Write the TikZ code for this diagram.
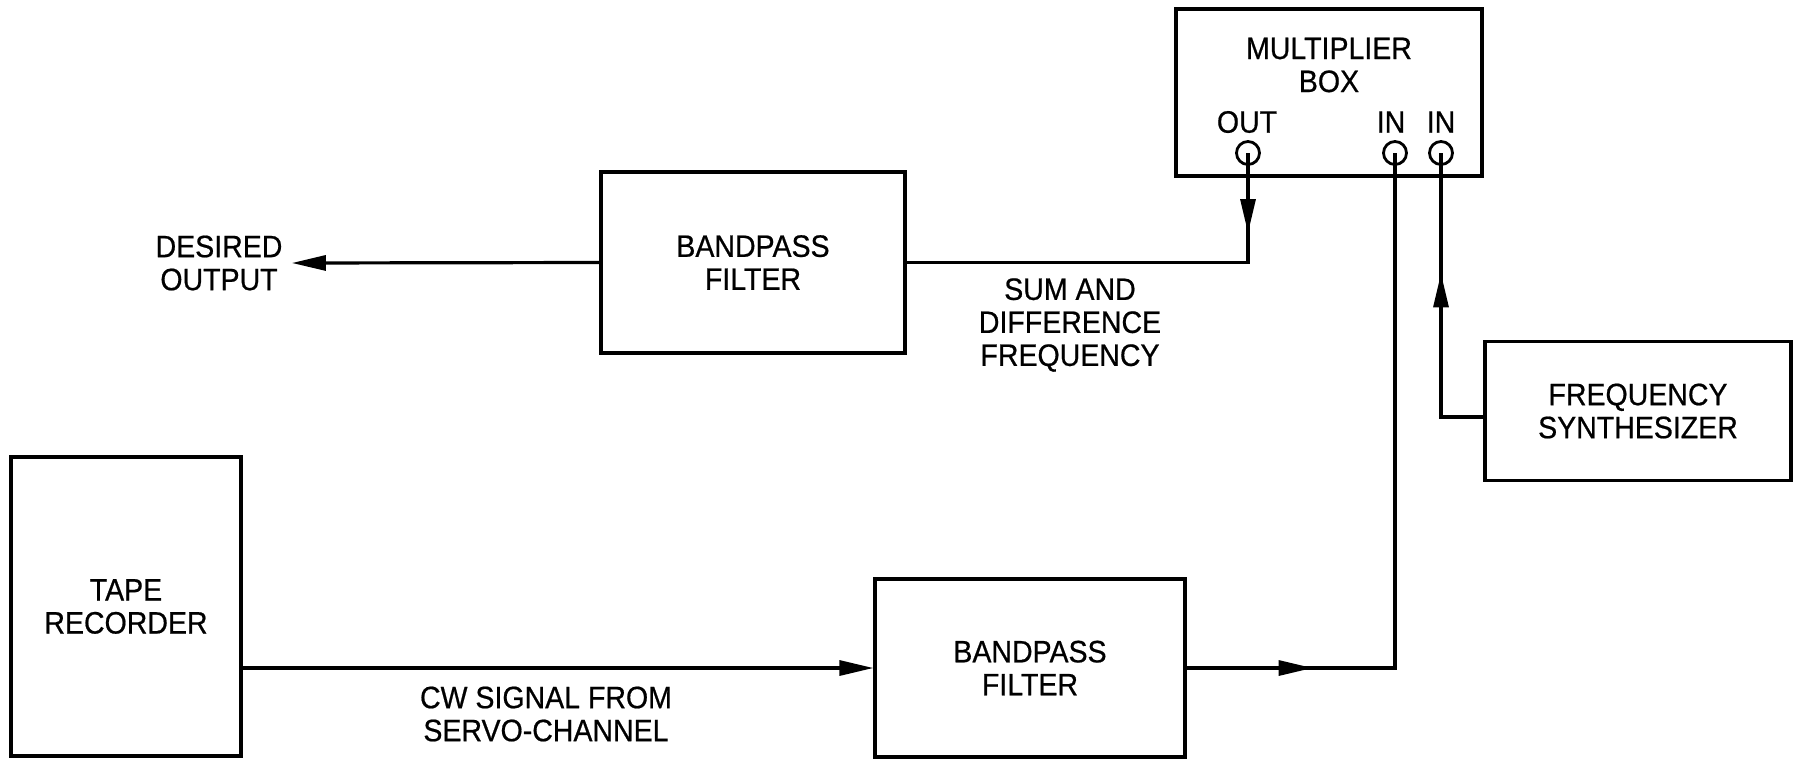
\documentclass[tikz,border=0pt]{standalone}
\usepackage{fontspec}
\setmainfont{Liberation Sans}[FakeStretch=0.92,FakeBold=0.6]
\usetikzlibrary{arrows.meta,decorations.markings}
\newcommand\diagfont{\fontsize{15.5}{16.5}\selectfont}
\begin{document}
\begin{tikzpicture}[x=0.5pt,y=-0.5pt,
  blockbox/.style={draw,line width=1.6pt,rectangle,inner sep=0pt,align=center,font=\diagfont},
  lbl/.style={align=center,font=\diagfont,inner sep=0pt},
  port/.style={draw,circle,line width=1.4pt,minimum size=11.5pt,inner sep=0pt},
  wire/.style={line width=1.6pt},
  tip/.style={-{Triangle[length=17pt,width=7.5pt]}},
  midarrow/.style={postaction={decorate},decoration={markings,mark=at position #1 with {\arrow{Triangle[length=17pt,width=7.5pt]}}}},
]
\useasboundingbox (0,0) rectangle (1794,762);

% blocks
\node[blockbox,minimum width=153pt,minimum height=83.5pt] (mult) at (1329,92.5) {};
\node[lbl] (multtxt) at (1329,65) {MULTIPLIER\\BOX};
\node[lbl] (outlbl) at (1247,122) {OUT};
\node[lbl] (in1lbl) at (1391,122) {IN};
\node[lbl] (in2lbl) at (1441,122) {IN};
\node[port] (out) at (1248,153) {};
\node[port] (in1) at (1395,153) {};
\node[port] (in2) at (1441,153) {};

\node[blockbox,minimum width=152pt,minimum height=90.5pt] (bpf1) at (753,262.5) {BANDPASS\\FILTER};
\node[blockbox,minimum width=153pt,minimum height=69.5pt] (synth) at (1638,411) {FREQUENCY\\SYNTHESIZER};
\node[blockbox,minimum width=115pt,minimum height=149.5pt] (tape) at (126,606.5) {TAPE\\RECORDER};
\node[blockbox,minimum width=155pt,minimum height=89pt] (bpf2) at (1030,668) {BANDPASS\\FILTER};

% labels
\node[lbl,inner sep=4pt,outer sep=0.75pt] (desired) at (219,263) {DESIRED\\OUTPUT};
\node[lbl] (sumlbl) at (1070,325) {SUM AND\\DIFFERENCE\\FREQUENCY};
\node[lbl] (cwlbl) at (546,714) {CW SIGNAL FROM\\SERVO-CHANNEL};

% connectors
\draw[wire,tip] (bpf1.west) -- (desired.east);
\draw[wire,midarrow=40pt] (out.center) |- (bpf1.east);
\draw[wire,midarrow=93pt] ([yshift=-3pt]synth.west) -| (in2.center);
\draw[wire,midarrow=63pt] (bpf2.east) -| (in1.center);
\draw[wire,tip] (tape.east |- bpf2.west) -- (bpf2.west);
\end{tikzpicture}
\end{document}
